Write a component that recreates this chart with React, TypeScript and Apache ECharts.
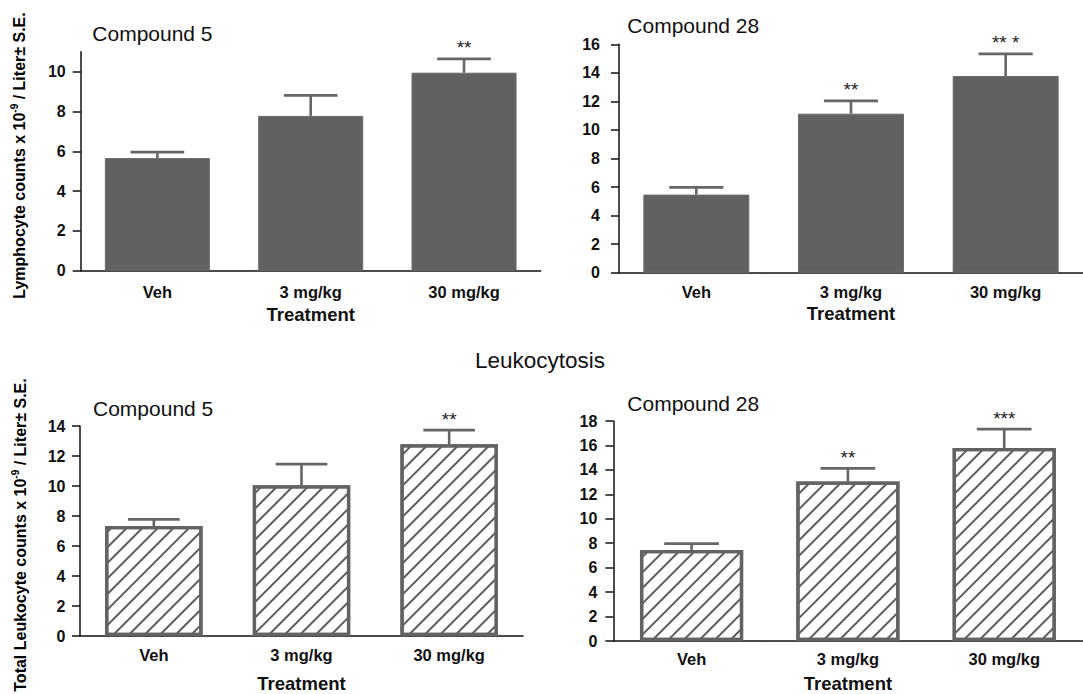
import React, { useEffect, useRef } from 'react';
import * as echarts from 'echarts';

const categories = ['Veh', '3 mg/kg', '30 mg/kg'];

const lymphC5 = [5.66, 7.78, 9.95];
const lymphC5Err = [0.3, 1.03, 0.69];
const lymphC5Stars = ['', '', '**'];

const lymphC28 = [5.47, 11.14, 13.78];
const lymphC28Err = [0.51, 0.89, 1.55];
const lymphC28Stars = ['', '**', '** *'];

const leukoC5 = [7.33, 10.05, 12.79];
const leukoC5Err = [0.44, 1.41, 0.93];
const leukoC5Stars = ['', '', '**'];

const leukoC28 = [7.45, 13.05, 15.79];
const leukoC28Err = [0.52, 1.07, 1.54];
const leukoC28Stars = ['', '**', '***'];

const lymphC5Ticks = [0, 2, 4, 6, 8, 10];

const FONT = '"Liberation Sans", Arial, Helvetica, sans-serif';
const GREY = '#616161';
const INK = '#111';

type Panel = {
  values: number[];
  errs: number[];
  stars: string[];
  max: number;
  customTicks?: number[];
  grid: { left: number; top: number; width: number; height: number };
  yMargin: number;
  xMargin: number;
  nameGap: number;
  hatched: boolean;
};

const panels: Panel[] = [
  { values: lymphC5, errs: lymphC5Err, stars: lymphC5Stars, max: 11, customTicks: lymphC5Ticks,
    grid: { left: 80.7, top: 51.8, width: 460, height: 218.9 }, yMargin: 15, xMargin: 12.5, nameGap: 34.5, hatched: false },
  { values: lymphC28, errs: lymphC28Err, stars: lymphC28Stars, max: 16,
    grid: { left: 619, top: 44.3, width: 477, height: 228.4 }, yMargin: 19, xMargin: 10.5, nameGap: 31.5, hatched: false },
  { values: leukoC5, errs: leukoC5Err, stars: leukoC5Stars, max: 14,
    grid: { left: 80, top: 426, width: 443, height: 211.3 }, yMargin: 14.5, xMargin: 10, nameGap: 38, hatched: true },
  { values: leukoC28, errs: leukoC28Err, stars: leukoC28Stars, max: 18,
    grid: { left: 613.4, top: 421, width: 469, height: 223 }, yMargin: 16, xMargin: 9.5, nameGap: 33, hatched: true },
];

function errorSeries(idx: number, p: Panel) {
  return {
    type: 'custom',
    xAxisIndex: idx,
    yAxisIndex: idx,
    z: 5,
    data: p.values.map((v, i) => [i, v, p.errs[i]]),
    renderItem: (params: any, api: any) => {
      const i = api.value(0);
      const v = api.value(1);
      const e = api.value(2);
      const p0 = api.coord([i, v]);
      const p1 = api.coord([i, v + e]);
      const band = api.size([1, 0])[0];
      const hw = band * 0.175;
      const children: any[] = [
        { type: 'line', shape: { x1: p0[0], y1: p0[1], x2: p1[0], y2: p1[1] }, style: { stroke: '#666', lineWidth: 2.6 } },
        { type: 'line', shape: { x1: p0[0] - hw, y1: p1[1], x2: p0[0] + hw, y2: p1[1] }, style: { stroke: '#666', lineWidth: 2.8 } },
      ];
      const s = p.stars[params.dataIndex];
      if (s) {
        children.push({
          type: 'text',
          style: { text: s, x: p0[0], y: p1[1] - 11, align: 'center', verticalAlign: 'middle', font: `19px ${FONT}`, fill: '#222' },
        });
      }
      return { type: 'group', children };
    },
  };
}

function barSeries(idx: number, p: Panel) {
  const itemStyle: any = p.hatched
    ? {
        color: '#fff',
        borderColor: '#636363',
        borderWidth: 3.3,
        decal: {
          symbol: 'rect',
          symbolSize: 1,
          color: '#5c5c5c',
          backgroundColor: '#fff',
          dashArrayX: [1, 0],
          dashArrayY: [1.6, 8.4],
          rotation: -Math.PI / 4,
        },
      }
    : { color: GREY, borderColor: '#6a6a6a', borderWidth: 1 };
  return {
    type: 'bar',
    xAxisIndex: idx,
    yAxisIndex: idx,
    barWidth: p.hatched ? '66%' : '68.5%',
    data: p.values,
    itemStyle,
    z: 2,
  };
}

const yNameRich = {
  b: { fontSize: 16, fontWeight: 'bold', fontFamily: FONT, color: INK },
  s: { fontSize: 10, fontWeight: 'bold', fontFamily: FONT, color: INK, padding: [0, 0, 10, 0] },
};

export default function App() {
  const ref = useRef<HTMLDivElement>(null);
  useEffect(() => {
    if (!ref.current) return;
    const chart = echarts.init(ref.current, undefined, { renderer: 'svg' });
    const option: any = {
      animation: false,
      backgroundColor: '#fff',
      grid: panels.map((p) => ({ ...p.grid, containLabel: false })),
      xAxis: panels.map((p, k) => ({
        gridIndex: k,
        type: 'category',
        data: categories,
        axisLine: { lineStyle: { color: INK, width: 1.5 } },
        axisTick: { alignWithLabel: true, length: 5, lineStyle: { color: INK, width: 1.5 } },
        axisLabel: { margin: p.xMargin, fontSize: 16.5, fontWeight: 'bold', color: INK, fontFamily: FONT },
        name: 'Treatment',
        nameLocation: 'middle',
        nameGap: p.nameGap,
        nameTextStyle: { fontSize: 18.5, fontWeight: 'bold', color: INK, fontFamily: FONT },
      })),
      yAxis: panels.map((p, k) => ({
        gridIndex: k,
        type: 'value',
        min: 0,
        max: p.max,
        interval: 2,
        axisLine: { show: true, lineStyle: { color: INK, width: 1.5 } },
        axisTick: p.customTicks
          ? { show: true, length: 8, lineStyle: { color: INK, width: 1.5 }, customValues: p.customTicks }
          : { show: true, length: 8, lineStyle: { color: INK, width: 1.5 } },
        splitLine: { show: false },
        axisLabel: p.customTicks
          ? { margin: p.yMargin, fontSize: 16, fontWeight: 'bold', color: INK, fontFamily: FONT, customValues: p.customTicks }
          : { margin: p.yMargin, fontSize: 16, fontWeight: 'bold', color: INK, fontFamily: FONT },
      })),
      series: [
        ...panels.map((p, k) => barSeries(k, p)),
        ...panels.map((p, k) => errorSeries(k, p)),
      ],
      graphic: [
        { type: 'text', x: 92.3, y: 33.3, style: { text: 'Compound 5', font: `21px ${FONT}`, fill: INK, verticalAlign: 'middle' } },
        { type: 'text', x: 627.3, y: 25.3, style: { text: 'Compound 28', font: `21px ${FONT}`, fill: INK, verticalAlign: 'middle' } },
        { type: 'text', x: 93, y: 408.3, style: { text: 'Compound 5', font: `21px ${FONT}`, fill: INK, verticalAlign: 'middle' } },
        { type: 'text', x: 627.3, y: 403, style: { text: 'Compound 28', font: `21px ${FONT}`, fill: INK, verticalAlign: 'middle' } },
        { type: 'text', x: 475, y: 360.5, style: { text: 'Leukocytosis', font: `22.5px ${FONT}`, fill: INK, verticalAlign: 'middle' } },
        {
          type: 'text', x: 19.5, y: 155.5, rotation: Math.PI / 2,
          style: { text: '{b|Lymphocyte counts x 10}{s|-9}{b| / Liter± S.E.}', rich: yNameRich, align: 'center', verticalAlign: 'middle' },
        },
        {
          type: 'text', x: 20.5, y: 535, rotation: Math.PI / 2,
          style: { text: '{b|Total Leukocyte counts x 10}{s|-9}{b| / Liter± S.E.}', rich: yNameRich, align: 'center', verticalAlign: 'middle' },
        },
      ],
    };
    chart.setOption(option);
    return () => chart.dispose();
  }, []);
  return <div ref={ref} style={{ position: 'fixed', left: 0, top: 0, width: 1083, height: 694 }} />;
}
